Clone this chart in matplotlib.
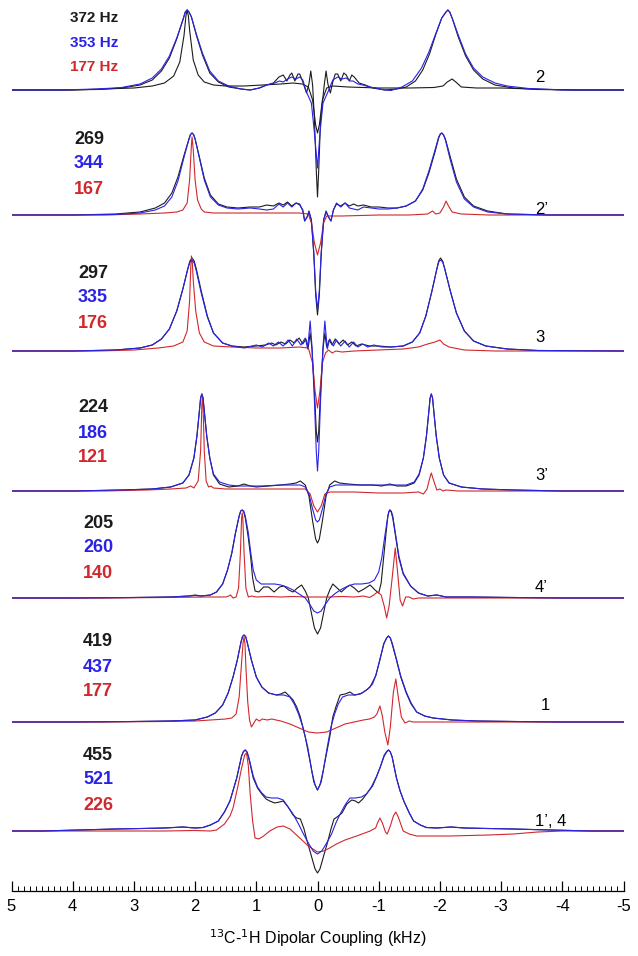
import matplotlib
matplotlib.use('Agg')
import matplotlib.pyplot as plt
from matplotlib.ticker import MultipleLocator
import numpy as np

plt.rcParams['font.family'] = ['Liberation Sans', 'DejaVu Sans']
plt.rcParams['axes.unicode_minus'] = False

BLACK = '#1c1c1c'
BLUE = '#2a22e6'
RED = '#d0282c'

# ---- spectra: (kHz, intensity) pairs ----
# panel "2"
p1_black = [(5, 0), (4.2, 0), (3.6, 0.5), (3.2, 2), (2.9, 5), (2.7, 10), (2.55, 19), (2.42, 32), (2.3, 51),
            (2.2, 70), (2.16, 78), (2.13, 80), (2.1, 78), (2.06, 73), (1.98, 55), (1.88, 35), (1.76, 17),
            (1.62, 8), (1.45, 3),
            (1.25, 1), (1.1, 0), (0.95, 2), (0.83, 5), (0.72, 7), (0.63, 13), (0.56, 15), (0.5, 9), (0.45, 15),
            (0.42, 17), (0.37, 9), (0.32, 16), (0.29, 16), (0.24, 8), (0.18, -3), (0.14, 6), (0.11, 19),
            (0.08, 5), (0.05, -30), (0.02, -80), (0.0, -107), (-0.02, -80), (-0.05, -30), (-0.11, 5),
            (-0.14, 19), (-0.17, 6), (-0.21, -3), (-0.25, 8), (-0.29, 16), (-0.33, 16), (-0.38, 9),
            (-0.43, 17), (-0.47, 15), (-0.52, 9), (-0.56, 15), (-0.6, 13), (-0.68, 7), (-0.78, 5), (-0.9, 2),
            (-1.1, 0), (-1.3, 1), (-1.45, 3), (-1.6, 9), (-1.72, 20), (-1.83, 36), (-1.93, 55), (-2.03, 72),
            (-2.1, 78), (-2.13, 80), (-2.16, 78), (-2.2, 72), (-2.3, 53), (-2.42, 34), (-2.55, 20),
            (-2.7, 11), (-2.9, 5), (-3.2, 2), (-3.6, 0.5), (-4.2, 0), (-5, 0)]
p1_blue = [(5, 0), (4.2, 0), (3.6, 1), (3.2, 2.5), (2.9, 6), (2.7, 12), (2.55, 21), (2.42, 34), (2.3, 52),
           (2.2, 70), (2.16, 78), (2.13, 80), (2.1, 78), (2.06, 73), (1.98, 56), (1.88, 37), (1.76, 19),
           (1.62, 9), (1.45, 4),
           (1.25, 1), (1.1, 0), (0.95, 2), (0.83, 5), (0.7, 7), (0.62, 9), (0.56, 8), (0.49, 11), (0.42, 13),
           (0.35, 11), (0.29, 13), (0.24, 10), (0.18, -2), (0.10, -13), (0.05, -43), (0.0, -78),
           (-0.04, -43), (-0.09, -13), (-0.17, -2), (-0.25, 10), (-0.33, 13), (-0.40, 11), (-0.47, 12),
           (-0.53, 9), (-0.58, 9), (-0.66, 6), (-0.74, 5), (-0.85, 3), (-0.95, 2), (-1.1, 0), (-1.2, -0.5),
           (-1.38, 3), (-1.55, 9), (-1.7, 22), (-1.82, 38), (-1.93, 56), (-2.03, 72), (-2.1, 78),
           (-2.13, 80), (-2.16, 78),
           (-2.2, 72), (-2.3, 55), (-2.42, 36), (-2.55, 22), (-2.7, 13), (-2.9, 7), (-3.1, 4), (-3.45, 1.5),
           (-4.0, 0), (-5, 0)]
p1_red = [(5, 0), (4.0, 0), (3.5, 1), (3.0, 2), (2.7, 4), (2.5, 7), (2.35, 14), (2.25, 28), (2.18, 55),
          (2.15, 74), (2.13, 80), (2.11, 74), (2.09, 60), (2.03, 30), (1.95, 15), (1.85, 8), (1.7, 5),
          (1.5, 4), (1.2, 4), (0.9, 5),
          (0.6, 6), (0.4, 7), (0.25, 6), (0.15, 3), (0.08, -10), (0.03, -35), (0.0, -43), (-0.03, -35),
          (-0.08, -10), (-0.15, 2), (-0.25, 4), (-0.5, 3), (-1.0, 2), (-1.5, 2), (-1.9, 2.5), (-2.05, 4),
          (-2.12, 8), (-2.2, 11), (-2.26, 8), (-2.35, 3), (-2.6, 2), (-3.0, 2), (-3.5, 1), (-4.2, 0), (-5, 0)]

# panel "2'"
p2_black = [(5, 0), (4, 0), (3.3, 1), (2.9, 3), (2.65, 7), (2.5, 12), (2.38, 22), (2.28, 38), (2.18, 60),
            (2.1, 76), (2.075, 80.5), (2.05, 82), (2.025, 80.5), (2.0, 76), (1.93, 58), (1.85, 37),
            (1.75, 20), (1.62, 11), (1.48, 8),
            (1.3, 7), (1.1, 8), (0.95, 8), (0.83, 10), (0.72, 9), (0.63, 12), (0.56, 10), (0.49, 13),
            (0.42, 9), (0.35, 12), (0.29, 10), (0.24, 5), (0.21, -6), (0.17, -2), (0.14, 4), (0.10, -5),
            (0.06, -40), (0.03, -80), (0.0, -100), (-0.03, -80), (-0.06, -40), (-0.10, -5), (-0.14, 4),
            (-0.18, -2), (-0.22, -6), (-0.26, 5), (-0.31, 11), (-0.38, 9), (-0.45, 12), (-0.52, 9),
            (-0.59, 11), (-0.66, 9), (-0.75, 10), (-0.88, 8), (-1.0, 8), (-1.15, 7), (-1.3, 7), (-1.45, 9),
            (-1.6, 14), (-1.72, 25), (-1.82, 42), (-1.92, 63), (-1.98, 77), (-2.005, 80.5), (-2.03, 82),
            (-2.06, 80), (-2.09, 76),
            (-2.17, 58), (-2.27, 36), (-2.4, 18), (-2.55, 9), (-2.78, 4), (-3.1, 1), (-3.8, 0), (-5, 0)]
p2_blue = [(5, 0), (4, 0), (3.3, 0.5), (2.9, 2), (2.65, 5), (2.5, 9), (2.38, 18), (2.28, 34), (2.18, 58),
           (2.1, 76), (2.075, 80.5), (2.05, 82), (2.025, 80.5), (2.0, 76), (1.93, 57), (1.85, 35),
           (1.75, 18), (1.62, 10), (1.48, 7),
           (1.3, 6), (1.1, 7), (0.95, 6), (0.83, 5), (0.72, 6), (0.63, 11), (0.56, 8), (0.49, 12), (0.42, 8),
           (0.35, 12), (0.29, 11), (0.24, 4), (0.21, -6), (0.17, -2), (0.14, 3), (0.10, -5), (0.06, -38),
           (0.03, -75), (0.0, -95), (-0.03, -75), (-0.06, -38), (-0.10, -5), (-0.14, 3), (-0.18, -2),
           (-0.22, -6), (-0.26, 5), (-0.31, 12), (-0.38, 8), (-0.45, 12), (-0.52, 7), (-0.59, 6),
           (-0.66, 5), (-0.75, 8), (-0.88, 7), (-1.0, 6), (-1.15, 6), (-1.3, 7), (-1.45, 9), (-1.6, 14),
           (-1.72, 26), (-1.82, 44), (-1.92, 65), (-1.98, 78), (-2.005, 81), (-2.03, 82), (-2.06, 80),
           (-2.09, 75), (-2.17, 55),
           (-2.27, 33), (-2.4, 16), (-2.55, 8), (-2.78, 3), (-3.1, 1), (-3.8, 0), (-5, 0)]
p2_red = [(5, 0), (3.5, 0), (2.9, 1), (2.5, 2), (2.3, 3), (2.2, 5), (2.13, 12), (2.09, 35), (2.06, 70),
          (2.05, 78), (2.03, 65), (2.0, 35), (1.96, 15), (1.9, 6), (1.85, 3), (1.7, 2), (1.4, 2), (1.0, 2),
          (0.6, 2), (0.3, 2), (0.15, 1), (0.10, -8), (0.05, -28), (0.0, -40), (-0.05, -28), (-0.10, -8),
          (-0.15, -1), (-0.4, -1), (-1.0, 0), (-1.5, 0), (-1.8, 1), (-1.88, 4), (-1.93, 1), (-2.0, 2),
          (-2.06, 8), (-2.1, 14), (-2.14, 9), (-2.2, 3), (-2.35, 1), (-2.8, 0), (-5, 0)]

# panel "3"
p3_black = [(5, 0), (4, 0), (3.3, 1), (2.9, 3), (2.7, 6), (2.55, 12), (2.42, 22), (2.3, 40), (2.2, 62),
            (2.12, 82), (2.085, 90), (2.05, 93), (2.015, 90), (1.98, 82), (1.9, 60), (1.8, 35), (1.7, 18),
            (1.55, 8), (1.4, 5),
            (1.2, 4), (1.0, 5), (0.85, 6), (0.75, 8), (0.68, 6), (0.6, 9), (0.52, 7), (0.45, 11), (0.38, 8),
            (0.3, 13), (0.24, 7), (0.19, 12), (0.15, 4), (0.12, 18), (0.09, 2), (0.05, -40), (0.02, -80),
            (0.0, -91), (-0.02, -80), (-0.05, -40), (-0.09, 2), (-0.12, 18), (-0.15, 4), (-0.19, 11),
            (-0.24, 6), (-0.29, 12), (-0.35, 7), (-0.42, 11), (-0.49, 6), (-0.56, 9), (-0.63, 5), (-0.72, 7),
            (-0.85, 5), (-1.0, 5), (-1.2, 4), (-1.4, 5), (-1.55, 9), (-1.67, 18), (-1.77, 35), (-1.87, 60),
            (-1.95, 82), (-1.98, 90), (-2.01, 93), (-2.045, 90), (-2.08, 82), (-2.17, 60), (-2.27, 38),
            (-2.4, 20), (-2.55, 10),
            (-2.75, 5), (-3.1, 2), (-3.6, 0.5), (-5, 0)]
p3_blue = [(5, 0), (4, 0), (3.3, 1), (2.9, 3), (2.7, 6), (2.55, 12), (2.42, 22), (2.3, 40), (2.2, 62),
           (2.12, 82), (2.085, 89), (2.05, 91), (2.015, 88), (1.98, 80), (1.9, 58), (1.8, 34), (1.7, 18),
           (1.55, 8), (1.4, 5), (1.2, 3),
           (1.0, 6), (0.9, 4), (0.8, 8), (0.72, 5), (0.64, 9), (0.56, 5), (0.48, 11), (0.41, 5), (0.34, 12),
           (0.27, 6), (0.2, 13), (0.16, 2), (0.12, 30), (0.09, 4), (0.05, -50), (0.02, -100), (0.0, -120),
           (-0.02, -100), (-0.05, -50), (-0.09, 4), (-0.12, 30), (-0.16, 2), (-0.2, 12), (-0.26, 5),
           (-0.31, 11), (-0.38, 5), (-0.45, 10), (-0.52, 4), (-0.59, 9), (-0.66, 4), (-0.74, 7), (-0.82, 4),
           (-0.92, 6), (-1.05, 4), (-1.2, 4), (-1.4, 5), (-1.55, 9), (-1.67, 18), (-1.77, 35), (-1.87, 60),
           (-1.95, 82), (-1.98, 89), (-2.01, 91), (-2.045, 89), (-2.08, 82), (-2.17, 60), (-2.27, 38),
           (-2.4, 20), (-2.55, 10),
           (-2.75, 5), (-3.1, 2), (-3.6, 0.5), (-5, 0)]
p3_red = [(5, 0), (3.6, 0), (3.0, 1), (2.6, 3), (2.35, 5), (2.2, 9), (2.13, 20), (2.09, 50), (2.07, 85),
          (2.06, 95), (2.045, 88), (2.03, 70), (1.99, 40), (1.93, 18), (1.85, 9), (1.7, 5), (1.4, 4),
          (1.0, 3), (0.6, 3), (0.3, 4),
          (0.15, 3), (0.08, -12), (0.04, -40), (0.0, -57), (-0.04, -40), (-0.08, -12), (-0.13, -2),
          (-0.18, 1), (-0.24, -2), (-0.3, 0), (-0.4, -1), (-0.6, 0), (-1.0, 1), (-1.4, 2), (-1.65, 4),
          (-1.8, 7), (-1.92, 9), (-2.0, 11), (-2.06, 7), (-2.15, 4), (-2.4, 1), (-2.9, 0), (-5, 0)]

# panel "3'"
p4_black = [(5, 0), (4, 0), (3.2, 1), (2.7, 2), (2.4, 4), (2.2, 8), (2.1, 16), (2.02, 33), (1.97, 55),
            (1.93, 80), (1.91, 93), (1.89, 97), (1.87, 93), (1.85, 80), (1.81, 55), (1.76, 33), (1.7, 16),
            (1.6, 7), (1.45, 4),
            (1.3, 5), (1.2, 7), (1.1, 5), (1.0, 4), (0.8, 5), (0.6, 6), (0.45, 7), (0.35, 8), (0.28, 10),
            (0.2, 6), (0.14, -5), (0.08, -30), (0.03, -48), (0.0, -52), (-0.03, -48), (-0.08, -30),
            (-0.14, -5), (-0.2, 6), (-0.28, 10), (-0.36, 8), (-0.5, 7), (-0.7, 6), (-0.9, 6), (-1.05, 5),
            (-1.18, 7), (-1.3, 5), (-1.45, 5), (-1.58, 8), (-1.66, 16), (-1.73, 33), (-1.78, 55), (-1.82, 80),
            (-1.84, 93), (-1.86, 97), (-1.88, 93), (-1.9, 80), (-1.94, 55), (-1.99, 33), (-2.06, 16),
            (-2.15, 8), (-2.35, 4),
            (-2.7, 2), (-3.2, 1), (-4, 0), (-5, 0)]
p4_blue = [(5, 0), (4, 0), (3.2, 1), (2.7, 2), (2.4, 4), (2.2, 8), (2.1, 16), (2.02, 33), (1.97, 55),
           (1.93, 80), (1.91, 93), (1.89, 97), (1.87, 93), (1.85, 80), (1.81, 55), (1.76, 33), (1.7, 17),
           (1.6, 9), (1.45, 6),
           (1.3, 5), (1.1, 5), (0.9, 5), (0.6, 6), (0.4, 6), (0.28, 6), (0.2, 4), (0.14, -3), (0.08, -18),
           (0.03, -29), (0.0, -31), (-0.03, -29), (-0.08, -18), (-0.14, -3), (-0.2, 4), (-0.3, 6),
           (-0.6, 6), (-0.9, 6), (-1.2, 6), (-1.45, 6), (-1.58, 9), (-1.66, 17), (-1.73, 33), (-1.78, 55),
           (-1.82, 80), (-1.84, 93), (-1.86, 97), (-1.88, 93), (-1.9, 80), (-1.94, 55), (-1.99, 33),
           (-2.06, 16), (-2.15, 8),
           (-2.35, 4), (-2.7, 2), (-3.2, 1), (-4, 0), (-5, 0)]
p4_red = [(5, 0), (3.5, 0), (2.8, 1), (2.4, 2), (2.15, 3), (2.07, 5), (2.02, 3), (1.95, 10), (1.91, 40),
          (1.89, 85), (1.88, 95), (1.87, 85), (1.85, 40), (1.82, 10), (1.78, 4), (1.74, 5), (1.7, 3),
          (1.5, 2), (1.0, 2), (0.5, 2),
          (0.2, 2), (0.12, -3), (0.06, -15), (0.0, -21), (-0.06, -15), (-0.12, -3), (-0.2, -1), (-0.6, -1),
          (-1.0, -2), (-1.4, -2), (-1.65, -1), (-1.73, -3), (-1.79, 2), (-1.83, 12), (-1.86, 18),
          (-1.9, 10), (-1.95, 1), (-2.0, 2), (-2.05, 0), (-2.1, 1), (-2.3, 0), (-5, 0)]

# panel "4'"
p5_black = [(5, 0), (4, 0), (3.0, 0.5), (2.4, 1), (2.1, 2), (2.0, 3), (1.9, 2), (1.75, 3), (1.65, 6),
            (1.55, 14), (1.47, 28), (1.4, 45), (1.34, 65), (1.28, 82), (1.255, 87), (1.23, 88), (1.205, 86),
            (1.18, 80), (1.13, 60),
            (1.09, 40), (1.06, 20), (1.02, 7), (0.96, 6), (0.88, 11), (0.8, 11), (0.71, 6), (0.62, 11),
            (0.55, 12), (0.47, 8), (0.4, 6), (0.33, 10), (0.26, 13), (0.2, 7), (0.15, 0), (0.1, -15),
            (0.05, -30), (0.0, -36), (-0.05, -30), (-0.1, -15), (-0.15, 0), (-0.2, 8), (-0.25, 14),
            (-0.32, 10), (-0.39, 6), (-0.46, 10), (-0.53, 13), (-0.6, 10), (-0.67, 6), (-0.76, 9),
            (-0.86, 13), (-0.94, 8), (-1.0, 5), (-1.04, 15), (-1.08, 40), (-1.12, 65), (-1.15, 82),
            (-1.165, 86), (-1.18, 88), (-1.205, 86), (-1.23, 80), (-1.28, 60), (-1.33, 40), (-1.4, 24),
            (-1.52, 12), (-1.65, 5),
            (-1.8, 2), (-1.95, 3), (-2.1, 1), (-2.5, 1), (-3.2, 0.5), (-4, 0), (-5, 0)]
p5_blue = [(5, 0), (4, 0), (3.0, 0.5), (2.4, 1), (2.1, 2), (2.0, 2.5), (1.9, 2), (1.75, 3), (1.65, 6),
           (1.55, 14), (1.47, 28), (1.4, 45), (1.34, 65), (1.28, 82), (1.255, 87), (1.23, 88), (1.205, 87),
           (1.18, 82), (1.13, 65),
           (1.09, 45), (1.05, 28), (1.0, 18), (0.92, 14), (0.82, 14), (0.7, 14), (0.6, 13), (0.5, 11),
           (0.4, 8), (0.3, 4), (0.2, 0), (0.12, -7), (0.06, -13), (0.0, -15), (-0.06, -13), (-0.12, -7),
           (-0.2, 0), (-0.3, 5), (-0.4, 9), (-0.5, 12), (-0.6, 14), (-0.72, 14), (-0.84, 15), (-0.93, 18),
           (-1.0, 26), (-1.05, 40), (-1.1, 62), (-1.15, 82), (-1.165, 86), (-1.18, 88), (-1.205, 87),
           (-1.23, 82), (-1.28, 62),
           (-1.33, 42), (-1.4, 25), (-1.52, 12), (-1.65, 5), (-1.8, 2), (-1.95, 3), (-2.1, 1), (-2.5, 1),
           (-3.2, 0.5), (-4, 0), (-5, 0)]
p5_red = [(5, 0), (3.5, 0), (2.5, 0.5), (1.8, 1), (1.5, 1), (1.45, 2), (1.42, 3), (1.38, 0), (1.33, 1),
          (1.29, 10), (1.26, 45), (1.24, 80), (1.23, 85), (1.22, 80), (1.2, 45), (1.17, 10), (1.13, 1),
          (1.08, 2), (1.0, 1),
          (0.8, 1.5), (0.6, 1), (0.4, 1.5), (0.2, 1), (0.0, 1), (-0.2, 1), (-0.4, 1.5), (-0.6, 1),
          (-0.75, 2), (-0.85, 0.5), (-0.92, 3), (-0.98, 6), (-1.04, 3), (-1.09, -8), (-1.13, -20),
          (-1.17, -8), (-1.22, 20), (-1.27, 50), (-1.31, 25), (-1.35, -2), (-1.39, -8), (-1.44, 1),
          (-1.5, 1), (-1.56, -1), (-1.65, 0), (-2.0, 0), (-5, 0)]

# panel "1"
p6_black = [(5, 0), (4, 0), (3, 0.5), (2.4, 1), (2.0, 2), (1.8, 5), (1.67, 9), (1.55, 17), (1.46, 29),
            (1.38, 45), (1.31, 62), (1.25, 80), (1.225, 85.5), (1.2, 87), (1.175, 85.5), (1.15, 80),
            (1.08, 62), (1.0, 45), (0.91, 35),
            (0.8, 29), (0.67, 27), (0.6, 28), (0.53, 30), (0.46, 26), (0.4, 22), (0.34, 15), (0.28, 5),
            (0.2, -15), (0.12, -40), (0.06, -60), (0.0, -68), (-0.06, -60), (-0.12, -40), (-0.2, -15),
            (-0.25, 5), (-0.3, 15), (-0.37, 27), (-0.45, 28), (-0.53, 30), (-0.6, 27), (-0.7, 28),
            (-0.8, 32), (-0.86, 35), (-0.95, 46), (-1.02, 62), (-1.08, 78), (-1.13, 84), (-1.16, 86),
            (-1.19, 84), (-1.22, 78),
            (-1.29, 62), (-1.36, 45), (-1.45, 29), (-1.53, 18), (-1.62, 10), (-1.75, 6), (-1.89, 4),
            (-2.2, 2), (-2.6, 1), (-3.2, 0.5), (-4, 0), (-5, 0)]
p6_blue = [(5, 0), (4, 0), (3, 0.5), (2.4, 1), (2.0, 2), (1.8, 5), (1.67, 9), (1.55, 17), (1.46, 29),
           (1.38, 45), (1.31, 62), (1.25, 80), (1.225, 85.5), (1.2, 87), (1.175, 85.5), (1.15, 80),
           (1.08, 62), (1.0, 45), (0.91, 35),
           (0.8, 29), (0.67, 27), (0.55, 27), (0.45, 25), (0.38, 18), (0.31, 8), (0.24, -5), (0.16, -25),
           (0.09, -50), (0.04, -63), (0.0, -68), (-0.04, -63), (-0.09, -50), (-0.16, -25), (-0.22, -5),
           (-0.28, 8), (-0.34, 18), (-0.41, 25), (-0.5, 27), (-0.62, 27), (-0.73, 29), (-0.82, 33),
           (-0.9, 38), (-0.96, 48), (-1.02, 63), (-1.09, 79), (-1.13, 84), (-1.16, 86), (-1.19, 84),
           (-1.22, 79), (-1.29, 63),
           (-1.36, 46), (-1.45, 30), (-1.53, 19), (-1.62, 10), (-1.75, 6), (-1.89, 4), (-2.2, 2),
           (-2.6, 1), (-3.2, 0.5), (-4, 0), (-5, 0)]
p6_red = [(5, 0), (3.5, 0), (2.5, 0.5), (2.0, 1), (1.75, 2), (1.5, 3), (1.4, 4), (1.33, 8), (1.28, 25),
          (1.24, 60), (1.215, 80), (1.2, 85), (1.185, 78), (1.17, 55), (1.14, 20), (1.11, 2), (1.08, -5),
          (1.04, -1), (1.0, 3),
          (0.95, 1), (0.9, 3), (0.82, 2), (0.75, 3), (0.6, 1), (0.45, -2), (0.3, -6), (0.15, -10),
          (0.0, -11), (-0.15, -10), (-0.3, -6), (-0.45, -2), (-0.6, 0), (-0.75, 2), (-0.85, 3), (-0.93, 5),
          (-0.97, 8), (-1.02, 16), (-1.06, 6), (-1.1, -10), (-1.15, -23), (-1.19, -5), (-1.24, 30),
          (-1.28, 43), (-1.32, 25), (-1.37, 5), (-1.43, -1), (-1.5, 1), (-1.56, 0), (-2.0, 0), (-5, 0)]

# panel "1', 4"
p7_black = [(5, 0), (4.5, 0), (3.9, 1), (3.3, 2), (2.87, 2.5), (2.5, 3), (2.2, 4), (2.0, 3), (1.87, 3.5),
            (1.75, 6), (1.62, 10), (1.52, 19), (1.43, 30), (1.32, 53), (1.24, 75), (1.21, 79.5),
            (1.18, 81), (1.15, 78.5), (1.12, 72),
            (1.05, 53), (0.98, 43), (0.91, 37), (0.84, 32), (0.78, 30), (0.7, 28), (0.62, 29), (0.56, 30),
            (0.48, 24), (0.40, 16), (0.34, 13), (0.28, 12), (0.22, 2), (0.17, -10), (0.1, -25), (0.04, -38),
            (0.0, -42), (-0.04, -38), (-0.1, -25), (-0.17, -10), (-0.22, 2), (-0.27, 12), (-0.32, 14),
            (-0.4, 18), (-0.48, 27), (-0.56, 31), (-0.62, 30), (-0.67, 28), (-0.74, 32), (-0.8, 37),
            (-0.9, 45), (-0.97, 55), (-1.02, 63), (-1.09, 75), (-1.13, 79), (-1.16, 81), (-1.19, 79),
            (-1.22, 74), (-1.29, 53),
            (-1.35, 40), (-1.41, 30), (-1.5, 18), (-1.57, 10), (-1.68, 6), (-1.78, 3.5), (-1.95, 3),
            (-2.18, 4), (-2.4, 3), (-2.78, 2.5), (-3.2, 2), (-3.8, 1), (-4.5, 0), (-5, 0)]
p7_blue = [(5, 0), (4.5, 0), (3.9, 1), (3.3, 2), (2.87, 2.5), (2.5, 3), (2.2, 4), (2.0, 3), (1.87, 3.5),
           (1.75, 6), (1.62, 10), (1.52, 19), (1.43, 30), (1.32, 53), (1.24, 75), (1.21, 79.5), (1.18, 81),
           (1.15, 79), (1.12, 73),
           (1.05, 55), (0.98, 44), (0.91, 38), (0.84, 34), (0.75, 33), (0.65, 33), (0.56, 31), (0.48, 24),
           (0.40, 17), (0.31, 7), (0.23, -3), (0.15, -12), (0.07, -20), (0.0, -23), (-0.07, -20),
           (-0.15, -12), (-0.23, -3), (-0.3, 8), (-0.37, 17), (-0.45, 26), (-0.53, 33), (-0.62, 33),
           (-0.72, 34), (-0.8, 37), (-0.88, 44), (-0.96, 54), (-1.02, 63), (-1.09, 76), (-1.13, 79.5),
           (-1.16, 81), (-1.19, 79),
           (-1.22, 74), (-1.29, 53), (-1.35, 40), (-1.41, 30), (-1.5, 18), (-1.57, 10), (-1.68, 6),
           (-1.78, 3.5), (-1.95, 3), (-2.18, 4), (-2.4, 3), (-2.78, 2.5), (-3.2, 2), (-3.8, 1), (-4.5, 0),
           (-5, 0)]
p7_red = [(5, 0), (3.5, 0), (2.5, 0), (2.0, 0.5), (1.75, 0), (1.65, 1), (1.52, 7), (1.43, 15), (1.38, 23),
          (1.3, 45), (1.24, 63), (1.19, 76), (1.16, 78), (1.13, 65), (1.1, 37), (1.06, 10), (1.02, -7),
          (0.96, -8), (0.88, -5), (0.78, 0), (0.66, 4), (0.56, 5), (0.45, 2), (0.29, -7), (0.15, -15),
          (0.0, -21), (-0.1, -20), (-0.2, -17), (-0.31, -13), (-0.45, -9), (-0.64, -5), (-0.86, 0),
          (-0.95, 3), (-0.98, 8), (-1.02, 13), (-1.06, 8), (-1.11, -1), (-1.14, -3), (-1.19, 5),
          (-1.24, 15), (-1.28, 19), (-1.32, 14), (-1.4, 0), (-1.5, -3), (-1.62, -5), (-2.16, -5),
          (-2.8, -4), (-3.2, -3), (-3.6, -1), (-4.0, 0), (-5, 0)]

# fitted couplings shown at the left of each panel
black_hz = ['372 Hz', '269', '297', '224', '205', '419', '455']
blue_hz = ['353 Hz', '344', '335', '186', '260', '437', '521']
red_hz = ['177 Hz', '167', '176', '121', '140', '177', '226']
sites = ['2', '2\u2019', '3', '3\u2019', '4\u2019', '1', '1\u2019, 4']

# ---- layout (pixel rows of each baseline, label spots) ----
W, H = 638, 956
baselines = [90, 215, 351, 491, 598, 722, 831]
num_right = [118, 104, 108, 108, 113, 113, 113]
num_size = [11, 13, 13, 13, 13, 13, 13]
num_rows = [(18, 43, 67), (140, 164, 190), (273, 298, 323), (408, 433, 458),
            (523, 548, 574), (642, 667, 692), (755, 780, 806)]
site_pos = [(535, 78), (535, 210), (535, 337), (535, 476), (535, 588), (541, 705), (535, 822)]

spectra = [(p1_black, p1_blue, p1_red), (p2_black, p2_blue, p2_red), (p3_black, p3_blue, p3_red),
           (p4_black, p4_blue, p4_red), (p5_black, p5_blue, p5_red), (p6_black, p6_blue, p6_red),
           (p7_black, p7_blue, p7_red)]

fig = plt.figure(figsize=(W / 100, H / 100), dpi=100)
spine_row = 891
ax = fig.add_axes([11.5 / W, (H - spine_row) / H, 612 / W, spine_row / H])
ax.set_xlim(5, -5)
ax.set_ylim(-spine_row, 0)

for i, (blk, blu, red) in enumerate(spectra):
    base = baselines[i]
    # in the first panel the narrow trace is drawn dark, as in the figure
    red_col = BLACK if i == 0 else RED
    for data, col in ((blk, BLACK), (red, red_col), (blu, BLUE)):
        x, y = zip(*data)
        ax.plot(x, np.array(y) - base, color=col, lw=0.8)

    for txt, col, row in zip((black_hz[i], blue_hz[i], red_hz[i]), (BLACK, BLUE, RED), num_rows[i]):
        fig.text(num_right[i] / W, 1 - row / H, txt, color=col, ha='right', va='center',
                 fontsize=num_size[i], fontweight='bold')
    sx, sy = site_pos[i]
    fig.text(sx / W, 1 - sy / H, sites[i], ha='left', va='center', fontsize=12, color='black')

for s in ('left', 'right', 'top'):
    ax.spines[s].set_visible(False)
ax.spines['bottom'].set_linewidth(0.9)
ax.set_yticks([])
ax.xaxis.set_major_locator(MultipleLocator(1))
ax.xaxis.set_minor_locator(MultipleLocator(0.1))
ax.tick_params(axis='x', which='major', direction='in', length=7, width=0.9, labelsize=12, pad=6)
ax.tick_params(axis='x', which='minor', direction='in', length=3.5, width=0.7)
ax.set_xticks(range(-5, 6))
ax.set_xticklabels([str(v) for v in range(-5, 6)])

fig.text(318 / W, 1 - 938 / H, r'$^{13}$C-$^{1}$H Dipolar Coupling (kHz)', ha='center', va='center',
         fontsize=11.5)

fig.savefig('out.png', dpi=100)
